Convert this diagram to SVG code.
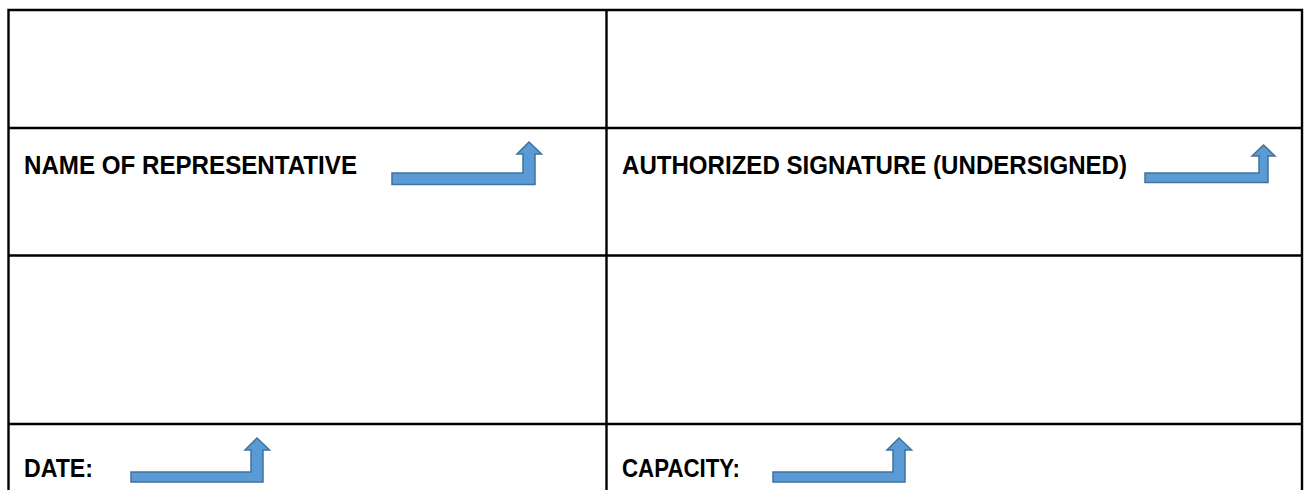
<svg xmlns="http://www.w3.org/2000/svg" width="1306" height="490" viewBox="0 0 1306 490">
  <style>
    .grid { stroke: #000; stroke-width: 2.4; fill: none; }
    .lbl { font-family: "Liberation Sans Narrow", "Liberation Sans", Arial, sans-serif; font-weight: bold; font-size: 26px; fill: #000; }
    .arrow { fill: #5b9bd5; stroke: #41719c; stroke-width: 1.5; stroke-linejoin: miter; }
  </style>
  <rect width="1306" height="490" fill="#fff"/>
  <g id="table">
    <path class="grid" d="M8.5,490 V10 H1302 V490"/>
    <path class="grid" d="M606.5,10 V490"/>
    <path class="grid" d="M8.5,128 H1302"/>
    <path class="grid" d="M8.5,255.5 H1302"/>
    <path class="grid" d="M8.5,424 H1302"/>
  </g>
  <g id="name-of-representative">
    <text class="lbl" x="24" y="173.5" textLength="333" lengthAdjust="spacingAndGlyphs">NAME OF REPRESENTATIVE</text>
  </g>
  <g id="authorized-signature">
    <text class="lbl" x="622" y="173.5" textLength="505" lengthAdjust="spacingAndGlyphs">AUTHORIZED SIGNATURE (UNDERSIGNED)</text>
  </g>
  <g id="date">
    <text class="lbl" x="24" y="477" textLength="69" lengthAdjust="spacingAndGlyphs">DATE:</text>
  </g>
  <g id="capacity">
    <text class="lbl" x="622" y="477" textLength="118" lengthAdjust="spacingAndGlyphs">CAPACITY:</text>
  </g>
  <g id="connectors">
    <path class="arrow" d="M392,173 H523 V154 H517 L529,142 L541.5,154 H535 V184.5 H392 Z"/>
    <path class="arrow" d="M1145,173 H1259 V156 H1252 L1263.5,145 L1275,156 H1268 V182.5 H1145 Z"/>
    <path class="arrow" d="M131,472 H251 V450 H245 L257,438 L269.5,450 H263 V482 H131 Z"/>
    <path class="arrow" d="M773,472 H893 V450 H887 L899,438 L911.5,450 H905 V482 H773 Z"/>
  </g>
</svg>
